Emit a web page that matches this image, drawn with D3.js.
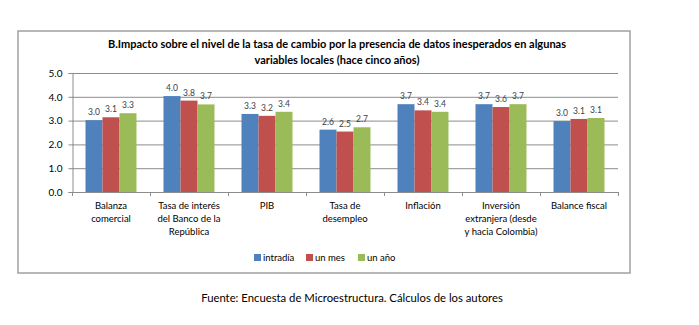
<!DOCTYPE html>
<html><head><meta charset="utf-8">
<script src="https://cdn.jsdelivr.net/npm/d3@7"></script>
<style>body{margin:0;background:#fff}svg{display:block}</style>
</head><body>
<svg id="c" width="699" height="325"></svg>
<script>
const categories = [
  ["Balanza","comercial"],
  ["Tasa de interés","del Banco de la","República"],
  ["PIB"],
  ["Tasa de","desempleo"],
  ["Inflación"],
  ["Inversión","extranjera (desde","y hacia Colombia)"],
  ["Balance fiscal"]
];
const seriesNames = ["intradía","un mes","un año"];
const intradia = [3.02, 4.03, 3.28, 2.62, 3.69, 3.69, 2.98];
const unMes    = [3.14, 3.84, 3.20, 2.54, 3.43, 3.57, 3.07];
const unAno    = [3.31, 3.68, 3.37, 2.72, 3.37, 3.69, 3.11];
const yTicks = [0,1,2,3,4,5];
const colors = ["#4F81BD","#C0504D","#9BBB59"];
const titleLines = ["B.Impacto sobre el nivel de la tasa de cambio por la presencia de datos inesperados en algunas","variables locales (hace cinco años)"];
const source = "Fuente: Encuesta de Microestructura. Cálculos de los autores";

(function(){
const series = [intradia, unMes, unAno];
const svg = d3.select("#c");
const font = "Lato, 'Open Sans', sans-serif";
const pLeft = 72, pRight = 618, pTop = 73, pBottom = 192;

svg.append("rect").attr("x",18).attr("y",31).attr("width",612).attr("height",242)
  .attr("fill","#fff").attr("stroke","#a0a0a0").attr("stroke-width",1.5);

const x = d3.scaleBand().domain(d3.range(categories.length)).range([pLeft,pRight]).paddingInner(0).paddingOuter(0);
const y = d3.scaleLinear().domain([0,5]).range([pBottom,pTop]);
const bw = 17;
const xs = d3.scaleBand().domain(d3.range(3)).range([0, bw*3]);

svg.append("g").selectAll("line").data(yTicks.filter(d=>d>0)).join("line")
  .attr("x1",pLeft).attr("x2",pRight).attr("y1",d=>y(d)+0.5).attr("y2",d=>y(d)+0.5)
  .attr("stroke","#8c8c8c").attr("stroke-width",1);

const ya = svg.append("g").attr("transform",`translate(${pLeft+0.5},0)`)
  .call(d3.axisLeft(y).tickValues(yTicks).tickFormat(d3.format(".1f")).tickSize(4).tickPadding(6));
ya.select(".domain").attr("stroke","#8c8c8c");
ya.selectAll(".tick line").attr("stroke","#8c8c8c");
ya.selectAll("text").attr("font-family",font).attr("font-size",10).attr("fill","#000");

const groups = svg.append("g").selectAll("g").data(categories).join("g")
  .attr("transform",(d,i)=>`translate(${x(i)+x.bandwidth()/2-bw*1.5},0)`);
groups.each(function(c,i){
  const g = d3.select(this);
  series.forEach((s,k)=>{
    g.append("rect").attr("x",xs(k)).attr("width",xs.bandwidth()).attr("y",y(s[i])).attr("height",y(0)-y(s[i]))
      .attr("fill",colors[k]);
    g.append("text").attr("x",xs(k)+xs.bandwidth()/2).attr("y",y(s[i])-5).attr("text-anchor","middle")
      .attr("font-family",font).attr("font-size",8.5).attr("fill","#404040").text(d3.format(".1f")(s[i]));
  });
});

svg.append("line").attr("x1",pLeft).attr("x2",pRight).attr("y1",pBottom+0.5).attr("y2",pBottom+0.5).attr("stroke","#8c8c8c");
svg.append("g").selectAll("line").data(d3.range(categories.length+1)).join("line")
  .attr("x1",i=>pLeft+i*x.bandwidth()+0.5).attr("x2",i=>pLeft+i*x.bandwidth()+0.5)
  .attr("y1",pBottom).attr("y2",pBottom+4).attr("stroke","#8c8c8c");

svg.append("g").selectAll("text").data(categories).join("text")
  .attr("font-family",font).attr("font-size",9.5).attr("fill","#000").attr("text-anchor","middle")
  .each(function(lines,i){
    d3.select(this).selectAll("tspan").data(lines).join("tspan")
      .attr("x",x(i)+x.bandwidth()/2).attr("y",(d,j)=>209+j*13).text(d=>d);
  });

svg.append("text").attr("font-family",font).attr("font-size",11).attr("font-weight","bold")
  .attr("text-anchor","middle").attr("fill","#000")
  .selectAll("tspan").data(titleLines).join("tspan")
  .attr("x",337).attr("y",(d,j)=>48+j*16).text(d=>d);

const legX = [254, 306, 358];
const lg = svg.append("g").selectAll("g").data(seriesNames).join("g")
  .attr("transform",(d,i)=>`translate(${legX[i]},254)`);
lg.append("rect").attr("width",7).attr("height",7).attr("fill",(d,i)=>colors[i]);
lg.append("text").attr("x",9).attr("y",7).attr("font-family",font).attr("font-size",9.5).attr("fill","#000").text(d=>d);

svg.append("text").attr("x",352).attr("y",302).attr("text-anchor","middle")
  .attr("font-family",font).attr("font-size",11.3).attr("fill","#000").text(source);
})();
</script>
</body></html>
